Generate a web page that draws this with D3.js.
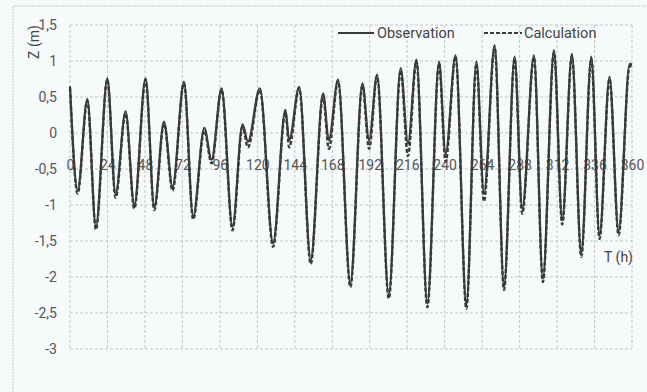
<!DOCTYPE html>
<html>
<head>
<meta charset="utf-8">
<script src="https://cdn.jsdelivr.net/npm/d3@7"></script>
<style>
    body { margin: 0; background: #f7fafb; }
    #chart text { font-family: Roboto, "Liberation Sans", sans-serif; }
</style>
</head>
<body>
<div id="chart"></div>
<script>
// Time of each high / low water (hours)
const hours = [0, 4.9, 11.1, 16.6, 23.9, 29.2, 35.6, 41.2, 48.4, 54,
    60.2, 65.7, 73, 78.9, 86, 90.7, 97.1, 104.1, 110.5, 114,
    121.6, 130.1, 138, 140.4, 146.8, 154.2, 162.1, 165.8, 171.7, 179.6,
    187.3, 191.6, 196.7, 204.2, 211.8, 216.5, 221.9, 228.9, 236.4, 240.6,
    247, 253.9, 260.3, 265.2, 272, 278, 284.8, 289.7, 297.2, 302.9,
    310, 315.3, 321.5, 327.5, 333.9, 339.2, 345.6, 351.4, 358.5, 360];

// Water level Z (m)
const observation = [0.65, -0.80, 0.47, -1.30, 0.76, -0.85, 0.30, -1.00, 0.76, -1.03,
    0.16, -0.75, 0.71, -1.16, 0.07, -0.37, 0.62, -1.30, 0.12, -0.12,
    0.62, -1.53, 0.32, -0.10, 0.64, -1.76, 0.55, -0.10, 0.74, -2.09,
    0.69, -0.10, 0.81, -2.25, 0.90, -0.15, 1.02, -2.37, 0.99, -0.29,
    1.08, -2.39, 0.99, -0.84, 1.22, -2.13, 1.06, -1.05, 1.08, -2.02,
    1.15, -1.21, 1.10, -1.67, 1.06, -1.42, 0.78, -1.37, 0.96, 0.95];

const calculation = [0.62, -0.84, 0.45, -1.34, 0.74, -0.90, 0.27, -1.05, 0.74, -1.07,
    0.13, -0.80, 0.69, -1.20, 0.03, -0.42, 0.60, -1.35, 0.08, -0.20,
    0.60, -1.58, 0.28, -0.20, 0.62, -1.82, 0.52, -0.22, 0.72, -2.14,
    0.66, -0.22, 0.79, -2.30, 0.87, -0.32, 1.00, -2.42, 0.96, -0.40,
    1.06, -2.44, 0.96, -0.95, 1.19, -2.18, 1.03, -1.12, 1.05, -2.07,
    1.12, -1.27, 1.07, -1.72, 1.03, -1.47, 0.75, -1.42, 0.93, 0.92];

const xTicks = d3.range(0, 361, 24);
const yTicks = [1.5, 1, 0.5, 0, -0.5, -1, -1.5, -2, -2.5, -3];

// Dimensions
const width = 647;
const height = 392;
const margin = { top: 25, right: 15, bottom: 43, left: 70 };

const svg = d3.select("#chart")
    .append("svg")
    .attr("width", width)
    .attr("height", height);

// Scales
const x = d3.scaleLinear()
    .domain([0, 360])
    .range([margin.left, width - margin.right]);

const y = d3.scaleLinear()
    .domain([-3, 1.5])
    .range([height - margin.bottom, margin.top]);

// outer frame (top and left edge only visible on the scan)
svg.append("path")
    .attr("d", `M13,${height} V6 H${width}`)
    .attr("fill", "none")
    .attr("stroke", "#c4c9cc")
    .attr("stroke-dasharray", "2,1");

// Grid
const grid = svg.append("g")
    .attr("stroke", "#c3c7ca")
    .attr("stroke-dasharray", "3,2")
    .attr("stroke-width", 1);

grid.selectAll(".hline")
    .data(yTicks)
    .enter()
    .append("line")
    .attr("x1", x(0))
    .attr("x2", x(360))
    .attr("y1", d => y(d))
    .attr("y2", d => y(d));

grid.selectAll(".vline")
    .data(xTicks)
    .enter()
    .append("line")
    .attr("x1", d => x(d))
    .attr("x2", d => x(d))
    .attr("y1", y(1.5))
    .attr("y2", y(-3));

// Axes
const fmt = d => String(d).replace(".", ",");

const yAxis = svg.append("g")
    .attr("transform", `translate(${margin.left - 13},0)`)
    .call(d3.axisLeft(y).tickValues(yTicks).tickFormat(fmt).tickSize(0).tickPadding(0));
yAxis.select(".domain").remove();
yAxis.selectAll("text")
    .attr("fill", "#555")
    .style("font-size", "14px");

const xAxis = svg.append("g")
    .attr("transform", `translate(0,${y(0)})`)
    .call(d3.axisBottom(x).tickValues(xTicks).tickSize(0).tickPadding(27));
xAxis.select(".domain").remove();
xAxis.selectAll("text")
    .attr("fill", "#555")
    .style("font-size", "14px");

// Lines
const obsData = hours.map((h, i) => ({ t: h, z: observation[i] }));
const calcData = hours.map((h, i) => ({ t: h, z: calculation[i] }));

const line = d3.line()
    .x(d => x(d.t))
    .y(d => y(d.z))
    .curve(d3.curveMonotoneX);

svg.append("path")
    .datum(calcData)
    .attr("fill", "none")
    .attr("stroke", "#3a3a3a")
    .attr("stroke-width", 2.4)
    .attr("stroke-dasharray", "4,2")
    .attr("d", line);

svg.append("path")
    .datum(obsData)
    .attr("fill", "none")
    .attr("stroke", "#3a3a3a")
    .attr("stroke-width", 2.2)
    .attr("d", line);

// Legend
const legend = svg.append("g");
legend.append("line")
    .attr("x1", 338).attr("x2", 374)
    .attr("y1", 33).attr("y2", 33)
    .attr("stroke", "#3a3a3a")
    .attr("stroke-width", 2);
legend.append("text")
    .attr("x", 377).attr("y", 38)
    .attr("fill", "#444")
    .style("font-size", "14.5px")
    .text("Observation");
legend.append("line")
    .attr("x1", 484).attr("x2", 522)
    .attr("y1", 33).attr("y2", 33)
    .attr("stroke", "#3a3a3a")
    .attr("stroke-width", 2)
    .attr("stroke-dasharray", "4,2");
legend.append("text")
    .attr("x", 524).attr("y", 38)
    .attr("fill", "#444")
    .style("font-size", "14.5px")
    .text("Calculation");

// Axis titles
svg.append("text")
    .attr("text-anchor", "end")
    .attr("x", 633)
    .attr("y", 262)
    .attr("fill", "#444")
    .style("font-size", "14px")
    .text("T (h)");

svg.append("text")
    .attr("text-anchor", "middle")
    .attr("transform", "rotate(-90)")
    .attr("x", -42)
    .attr("y", 39)
    .attr("fill", "#444")
    .style("font-size", "14px")
    .text("Z (m)");
</script>
</body>
</html>
